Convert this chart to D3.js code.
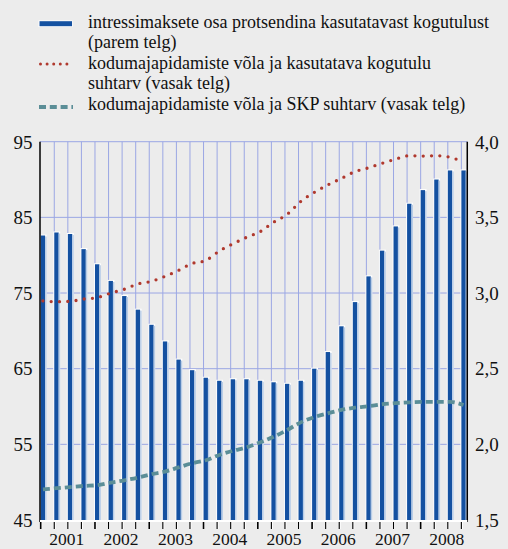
<!DOCTYPE html>
<html>
<head>
<meta charset="utf-8">
<script src="https://cdn.jsdelivr.net/npm/d3@7"></script>
<style>
  html, body { margin: 0; padding: 0; background: #ececec; }
  svg { display: block; }
</style>
</head>
<body>
<svg width="508" height="549" font-family="'Liberation Serif', 'Times New Roman', serif"></svg>
<script>
var years = ["2001", "2002", "2003", "2004", "2005", "2006", "2007", "2008"];
var quarters = [];
years.forEach(function(y) { for (var k = 1; k <= 4; k++) quarters.push(y + "Q" + k); });

// intressimaksete osa protsendina kasutatavast kogutulust (parem telg)
var interestShare = [3.38, 3.40, 3.39, 3.29, 3.19, 3.08, 2.98, 2.89,
                     2.79, 2.68, 2.56, 2.49, 2.44, 2.42, 2.43, 2.43,
                     2.42, 2.41, 2.40, 2.42, 2.50, 2.61, 2.78, 2.94,
                     3.11, 3.28, 3.44, 3.59, 3.68, 3.75, 3.81, 3.81];
// kodumajapidamiste võla ja kasutatava kogutulu suhtarv (vasak telg)
var debtToIncome = [73.95, 73.85, 73.9, 74.2, 74.4, 75.0, 75.5, 76.2,
                    76.55, 77.2, 78.0, 78.9, 79.3, 80.55, 81.5, 82.35,
                    83.1, 84.35, 85.4, 87.1, 88.3, 89.3, 90.15, 91.05,
                    91.55, 92.15, 92.7, 93.15, 93.1, 93.15, 92.95, 92.3];
// kodumajapidamiste võla ja SKP suhtarv (vasak telg)
var debtToGdp = [49.05, 49.2, 49.35, 49.5, 49.6, 49.95, 50.25, 50.6,
                 51.05, 51.4, 51.95, 52.5, 52.9, 53.6, 54.15, 54.6,
                 55.25, 56.0, 56.9, 57.9, 58.6, 59.1, 59.55, 59.85,
                 60.05, 60.3, 60.45, 60.55, 60.6, 60.6, 60.6, 60.2];

var leftTicks = [45, 55, 65, 75, 85, 95];
var rightTicks = [1.5, 2.0, 2.5, 3.0, 3.5, 4.0];

var legendItems = [
  {type: "bar", lines: ["intressimaksete osa protsendina kasutatavast kogutulust", "(parem telg)"]},
  {type: "dot", lines: ["kodumajapidamiste võla ja kasutatava kogutulu", "suhtarv (vasak telg)"]},
  {type: "dash", lines: ["kodumajapidamiste võla ja SKP suhtarv (vasak telg)"]}
];

var blue = "#1451a1", red = "#b0392e", teal = "#5b8e97", grid = "#9ba7e4", ink = "#111";

var svg = d3.select("svg"),
    plotTop = 141.7, plotBottom = 520, plotLeft = 40, step = 13.57, bw = 4.4,
    plotRight = plotLeft + 0.7 + 31 * step + bw + 1.5;

var x = d3.scaleBand().domain(quarters).range([plotLeft + 0.7, plotLeft + 0.7 + quarters.length * step]).padding(0),
    yL = d3.scaleLinear().domain([45, 95]).range([plotBottom, plotTop]),
    yR = d3.scaleLinear().domain([1.5, 4.0]).range([plotBottom, plotTop]);

var fmtR = function(d) { return d3.format(".1f")(d).replace(".", ","); };

// grid
var g = svg.append("g");
g.selectAll(".hgrid").data(leftTicks.slice(1)).enter().append("line")
    .attr("x1", plotLeft).attr("x2", plotRight)
    .attr("y1", function(d) { return yL(d); }).attr("y2", function(d) { return yL(d); })
    .attr("stroke", grid).attr("stroke-width", 1);
g.selectAll(".vgrid").data(quarters.slice(1)).enter().append("line")
    .attr("x1", function(d) { return x(d); }).attr("x2", function(d) { return x(d); })
    .attr("y1", plotTop).attr("y2", plotBottom)
    .attr("stroke", grid).attr("stroke-width", 1);

// bars
var bars = svg.append("g").selectAll("g").data(quarters).enter().append("g");
bars.append("rect")
    .attr("x", function(d) { return x(d) - 1; })
    .attr("y", function(d, i) { return yR(interestShare[i]) - 1; })
    .attr("width", bw + 2.5)
    .attr("height", function(d, i) { return plotBottom - yR(interestShare[i]) + 1; })
    .attr("fill", "#ffffff");
bars.append("rect")
    .attr("x", function(d) { return x(d); })
    .attr("y", function(d, i) { return yR(interestShare[i]); })
    .attr("width", bw)
    .attr("height", function(d, i) { return plotBottom - yR(interestShare[i]); })
    .attr("fill", blue);
bars.append("rect")
    .attr("x", function(d) { return x(d) + bw; })
    .attr("y", function(d, i) { return yR(interestShare[i]) + 1; })
    .attr("width", 1.5)
    .attr("height", function(d, i) { return plotBottom - yR(interestShare[i]) - 1; })
    .attr("fill", "#b9cde6");

// lines
var lineL = function(vals) {
  return d3.line()
    .curve(d3.curveMonotoneX)
    .x(function(d, i) { return x(quarters[i]) + bw / 2; })
    .y(function(d) { return yL(d); })(vals);
};

svg.append("path")
    .attr("d", lineL(debtToGdp))
    .attr("fill", "none").attr("stroke", teal)
    .attr("stroke-width", 3.8).attr("stroke-dasharray", "7 4");

svg.append("path")
    .attr("d", lineL(debtToIncome))
    .attr("fill", "none").attr("stroke", red)
    .attr("stroke-width", 3.3).attr("stroke-linecap", "round")
    .attr("stroke-dasharray", "0 8.3");

// axes
svg.append("line").attr("x1", plotLeft).attr("x2", plotLeft).attr("y1", plotTop).attr("y2", plotBottom + 2)
    .attr("stroke", "#000").attr("stroke-width", 1.5);
svg.append("line").attr("x1", plotRight).attr("x2", plotRight).attr("y1", plotTop).attr("y2", plotBottom + 2)
    .attr("stroke", "#000").attr("stroke-width", 1.5);
svg.append("line").attr("x1", plotLeft).attr("x2", plotRight).attr("y1", plotBottom + 1).attr("y2", plotBottom + 1)
    .attr("stroke", "#fff").attr("stroke-width", 2);

var ticks = svg.append("g").selectAll("g").data(quarters).enter().append("g");
ticks.append("line")
    .attr("x1", function(d) { return x(d) + 1; }).attr("x2", function(d) { return x(d) + 1; })
    .attr("y1", plotBottom + 2).attr("y2", plotBottom + 9)
    .attr("stroke", "#fff").attr("stroke-width", 1);
ticks.append("line")
    .attr("x1", function(d) { return x(d); }).attr("x2", function(d) { return x(d); })
    .attr("y1", plotBottom + 2).attr("y2", plotBottom + 9)
    .attr("stroke", "#000").attr("stroke-width", function(d, i) { return i % 4 === 0 ? 1.6 : 1.1; });

svg.append("g").selectAll("text").data(years).enter().append("text")
    .attr("x", function(d) { return x(d + "Q3") - 1; })
    .attr("y", 544.5)
    .attr("text-anchor", "middle")
    .attr("font-size", 17.5)
    .attr("fill", ink)
    .text(function(d) { return d; });

svg.append("g").selectAll("text").data(leftTicks).enter().append("text")
    .attr("x", 32.5)
    .attr("y", function(d) { return yL(d) + 6.8; })
    .attr("text-anchor", "end")
    .attr("font-size", 19)
    .attr("fill", ink)
    .text(function(d) { return d; });

svg.append("g").selectAll("text").data(rightTicks).enter().append("text")
    .attr("x", 475)
    .attr("y", function(d) { return yR(d) + 6.8; })
    .attr("font-size", 19)
    .attr("fill", ink)
    .text(fmtR);

// legend
var lineH = 20.5, ly = 27.5, row = 0;
legendItems.forEach(function(item) {
  var base = ly + row * lineH;
  if (item.type === "bar") {
    svg.append("rect").attr("x", 38.5).attr("y", base - 7).attr("width", 34).attr("height", 6.5).attr("fill", "#fff");
    svg.append("rect").attr("x", 39.5).attr("y", base - 6.3).attr("width", 32.5).attr("height", 5).attr("fill", blue);
  } else if (item.type === "dot") {
    svg.append("line").attr("x1", 40.5).attr("x2", 72).attr("y1", base - 4.5).attr("y2", base - 4.5)
        .attr("stroke", red).attr("stroke-width", 3).attr("stroke-linecap", "round").attr("stroke-dasharray", "0 6.6");
  } else {
    svg.append("line").attr("x1", 39).attr("x2", 73).attr("y1", base - 2.5).attr("y2", base - 2.5)
        .attr("stroke", teal).attr("stroke-width", 3.8).attr("stroke-dasharray", "7 3.8");
  }
  item.lines.forEach(function(t) {
    svg.append("text").attr("x", 88).attr("y", ly + row * lineH)
        .attr("font-size", 18).attr("fill", ink).text(t);
    row++;
  });
});
</script>
</body>
</html>
